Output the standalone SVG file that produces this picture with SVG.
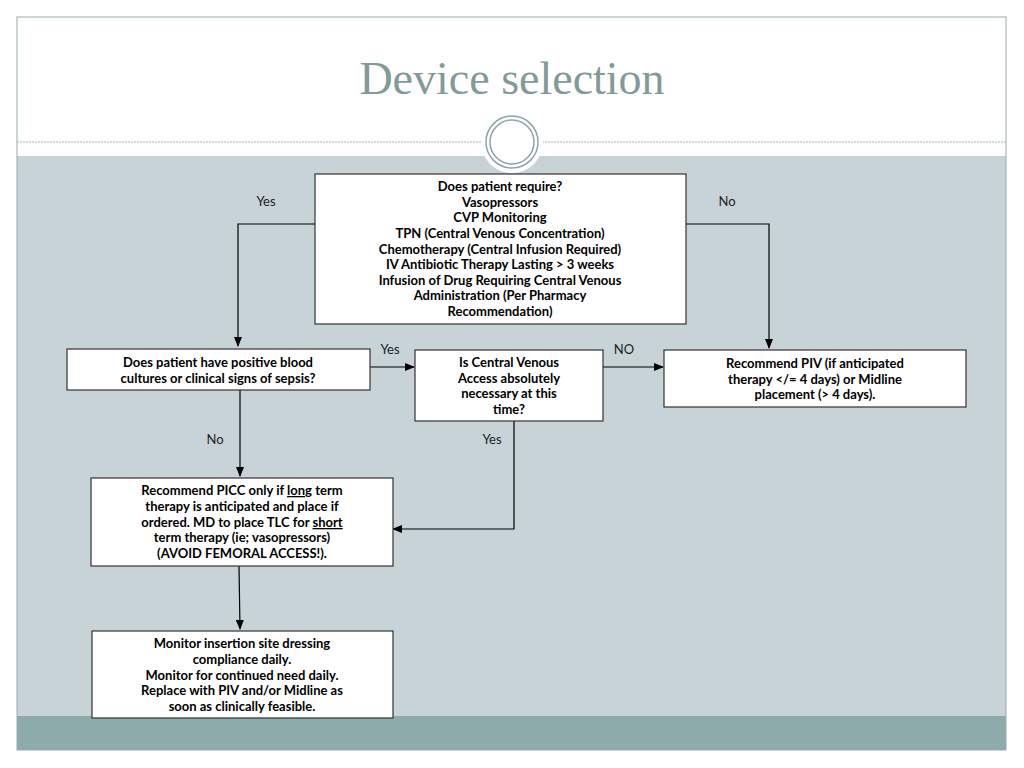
<svg xmlns="http://www.w3.org/2000/svg" width="1024" height="768" viewBox="0 0 1024 768">
<defs>
<marker id="ah" markerWidth="10" markerHeight="8" refX="9" refY="4" orient="auto" markerUnits="userSpaceOnUse"><path d="M0,0 L10,4 L0,8 Z" fill="#000"/></marker>
<style>
.box{fill:#fff;stroke:#333;stroke-width:1.2}
.t{font-family:Lato,"Open Sans",sans-serif;font-size:13px;font-weight:bold;text-anchor:middle;fill:#000}
.l{font-family:Lato,"Open Sans",sans-serif;font-size:13px;text-anchor:middle;fill:#222}
.c{fill:none;stroke:#000;stroke-width:1.2}
</style>
</defs>
<rect width="1024" height="768" fill="#fff"/>
<rect x="17" y="156" width="989" height="560" fill="#c7d3d7"/>
<rect x="17" y="716" width="989" height="34" fill="#8eabab"/>
<rect x="17" y="17" width="989" height="733" fill="none" stroke="#9aabab" stroke-width="1"/>
<line x1="17" y1="142" x2="1006" y2="142" stroke="#a9b3b3" stroke-dasharray="2,1"/>
<circle cx="512" cy="142" r="31" fill="#fff"/>
<circle cx="512" cy="142" r="26" fill="none" stroke="#8ea5a5" stroke-width="1.5"/>
<circle cx="512" cy="142" r="22" fill="none" stroke="#8ea5a5" stroke-width="1.5"/>
<text x="512" y="94" font-family="Liberation Serif,serif" font-size="46" fill="#7f9b9a" text-anchor="middle">Device selection</text>
<g id="connectors">
<polyline class="c" points="315,224 238,224 238,346" marker-end="url(#ah)"/>
<polyline class="c" points="686,224 769,224 769,348" marker-end="url(#ah)"/>
<line class="c" x1="370" y1="367" x2="414" y2="367" marker-end="url(#ah)"/>
<line class="c" x1="603" y1="367" x2="663" y2="367" marker-end="url(#ah)"/>
<line class="c" x1="240" y1="390" x2="240" y2="476" marker-end="url(#ah)"/>
<polyline class="c" points="514,421 514,529 393,529" marker-end="url(#ah)"/>
<line class="c" x1="239" y1="566" x2="240" y2="629" marker-end="url(#ah)"/>
<text class="l" x="266" y="206">Yes</text>
<text class="l" x="727" y="206">No</text>
<text class="l" x="390" y="354">Yes</text>
<text class="l" x="624" y="354">NO</text>
<text class="l" x="215" y="444">No</text>
<text class="l" x="492" y="444">Yes</text>
</g>
<g id="n1"><rect class="box" x="315" y="174" width="371" height="150"/>
<text class="t" x="500" y="191">Does patient require?</text>
<text class="t" x="500" y="207">Vasopressors</text>
<text class="t" x="500" y="222">CVP Monitoring</text>
<text class="t" x="500" y="238">TPN (Central Venous Concentration)</text>
<text class="t" x="500" y="254">Chemotherapy (Central Infusion Required)</text>
<text class="t" x="500" y="269">IV Antibiotic Therapy Lasting &gt; 3 weeks</text>
<text class="t" x="500" y="285">Infusion of Drug Requiring Central Venous</text>
<text class="t" x="500" y="300">Administration (Per Pharmacy</text>
<text class="t" x="500" y="316">Recommendation)</text></g>
<g id="n2"><rect class="box" x="67" y="349" width="303" height="41"/>
<text class="t" x="218" y="367">Does patient have positive blood</text>
<text class="t" x="218" y="383">cultures or clinical signs of sepsis?</text></g>
<g id="n3"><rect class="box" x="415" y="350" width="188" height="71"/>
<text class="t" x="509" y="367">Is Central Venous</text>
<text class="t" x="509" y="383">Access absolutely</text>
<text class="t" x="509" y="398">necessary at this</text>
<text class="t" x="509" y="414">time?</text></g>
<g id="n4"><rect class="box" x="664" y="350" width="302" height="57"/>
<text class="t" x="815" y="368">Recommend PIV (if anticipated</text>
<text class="t" x="815" y="384">therapy &lt;/= 4 days) or Midline</text>
<text class="t" x="815" y="399">placement (&gt; 4 days).</text></g>
<g id="n5"><rect class="box" x="91" y="478" width="302" height="88"/>
<text class="t" x="242" y="495">Recommend PICC only if <tspan text-decoration="underline">long</tspan> term</text>
<text class="t" x="242" y="511">therapy is anticipated and place if</text>
<text class="t" x="242" y="527">ordered.  MD to place TLC for <tspan text-decoration="underline">short</tspan></text>
<text class="t" x="242" y="542">term therapy (ie; vasopressors)</text>
<text class="t" x="242" y="558">(AVOID FEMORAL ACCESS!).</text></g>
<g id="n6"><rect class="box" x="92" y="631" width="301" height="87"/>
<text class="t" x="242" y="648">Monitor insertion site dressing</text>
<text class="t" x="242" y="664">compliance daily.</text>
<text class="t" x="242" y="680">Monitor for continued need daily.</text>
<text class="t" x="242" y="695">Replace with PIV and/or Midline as</text>
<text class="t" x="242" y="711">soon as clinically feasible.</text></g>
</svg>
